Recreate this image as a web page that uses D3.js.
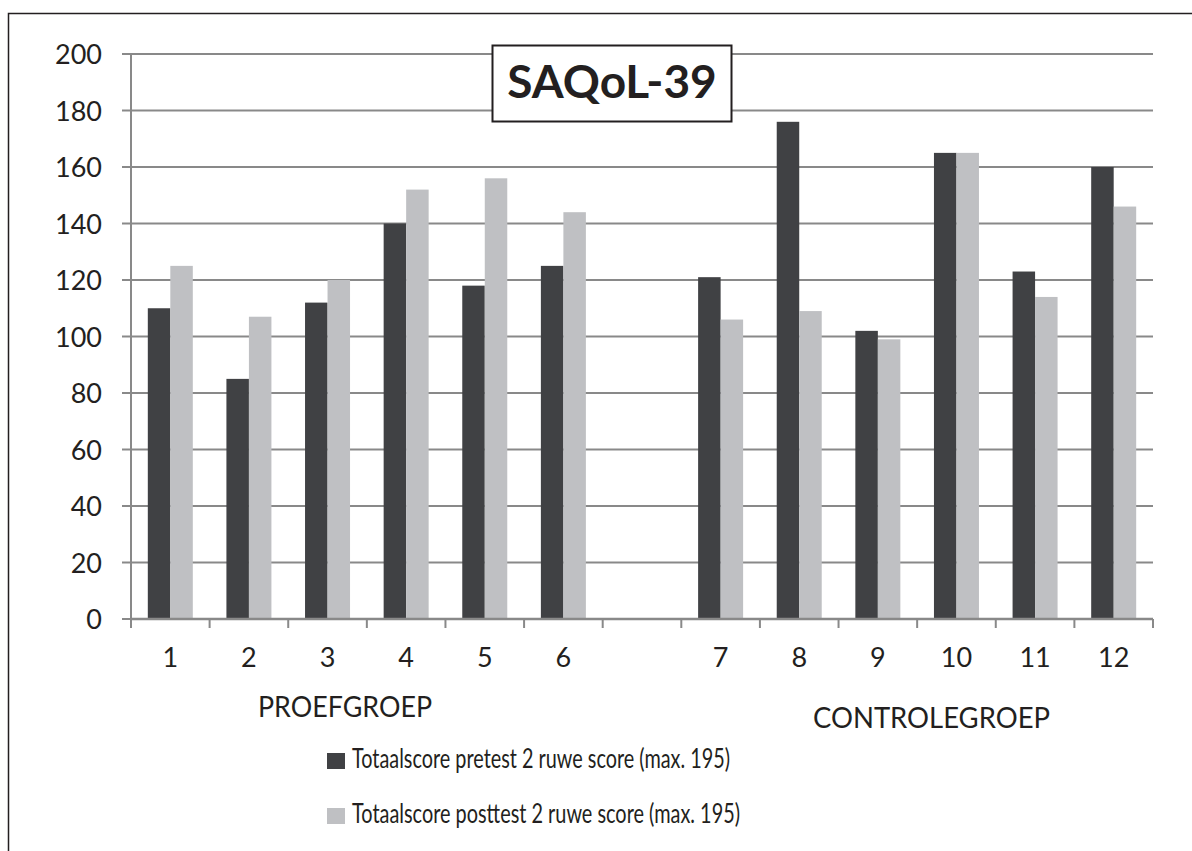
<!DOCTYPE html>
<html>
<head>
<meta charset="utf-8">
<script src="https://cdn.jsdelivr.net/npm/d3@7"></script>
<style>
  body { margin: 0; background: #fff; }
  text { font-family: Lato, "Open Sans", sans-serif; fill: #231f20; }
</style>
</head>
<body>
<script>
// SAQoL-39 chart

var categories = ["1", "2", "3", "4", "5", "6", "", "7", "8", "9", "10", "11", "12"];
var pretest  = [110, 85, 112, 140, 118, 125, null, 121, 176, 102, 165, 123, 160];
var posttest = [125, 107, 120, 152, 156, 144, null, 106, 109, 99, 165, 114, 146];
var yTicks = [0, 20, 40, 60, 80, 100, 120, 140, 160, 180, 200];
var seriesNames = ["Totaalscore pretest 2 ruwe score (max. 195)", "Totaalscore posttest 2 ruwe score (max. 195)"];
var seriesColors = ["#404144", "#bfc0c3"];

function draw_chart() {
    var width = 1192, height = 851;

    var svg = d3.select("body").append("svg")
                .attr("width", width)
                .attr("height", height);

    // outer frame (top and left edges only visible)
    svg.append("path")
        .attr("d", "M8.5,851 L8.5,13.5 L1192,13.5")
        .attr("fill", "none")
        .attr("stroke", "#231f20")
        .attr("stroke-width", 1.5);

    var left = 131, right = 1153, top = 54, bottom = 619;

    var x = d3.scaleBand()
              .domain(d3.range(categories.length))
              .range([left, right]);

    var y = d3.scaleLinear()
              .domain([0, 200])
              .range([bottom, top]);

    // gridlines
    svg.append("g")
        .selectAll("line")
        .data(yTicks)
        .enter()
        .append("line")
        .attr("x1", left - 9)
        .attr("x2", right)
        .attr("y1", function(d) { return y(d); })
        .attr("y2", function(d) { return y(d); })
        .attr("stroke", "#898989")
        .attr("stroke-width", 2);

    // y labels
    svg.append("g")
        .selectAll("text")
        .data(yTicks)
        .enter()
        .append("text")
        .attr("x", 102)
        .attr("y", function(d) { return y(d) + 10; })
        .attr("text-anchor", "end")
        .style("font-size", "27px")
        .text(function(d) { return d; });

    // bars
    var barW = 22.5;
    var series = [pretest, posttest];
    series.forEach(function(values, si) {
        svg.append("g")
            .selectAll("rect")
            .data(values.map(function(v, i) { return {i: i, v: v}; }).filter(function(d) { return d.v !== null; }))
            .enter()
            .append("rect")
            .attr("x", function(d) { return x(d.i) + x.bandwidth() / 2 - barW + si * barW; })
            .attr("y", function(d) { return y(d.v); })
            .attr("width", barW)
            .attr("height", function(d) { return y(0) - y(d.v); })
            .attr("fill", seriesColors[si]);
    });

    // y axis line
    svg.append("line")
        .attr("x1", left).attr("x2", left)
        .attr("y1", top).attr("y2", bottom + 9)
        .attr("stroke", "#898989")
        .attr("stroke-width", 2);

    // x axis line
    svg.append("line")
        .attr("x1", left).attr("x2", right)
        .attr("y1", bottom).attr("y2", bottom)
        .attr("stroke", "#898989")
        .attr("stroke-width", 2.5);

    // x tick marks at band boundaries
    svg.append("g")
        .selectAll("line")
        .data(d3.range(categories.length + 1))
        .enter()
        .append("line")
        .attr("x1", function(d) { return left + d * x.step(); })
        .attr("x2", function(d) { return left + d * x.step(); })
        .attr("y1", bottom)
        .attr("y2", bottom + 9)
        .attr("stroke", "#898989")
        .attr("stroke-width", 2);

    // x labels
    svg.append("g")
        .selectAll("text")
        .data(categories)
        .enter()
        .append("text")
        .attr("x", function(d, i) { return x(i) + x.bandwidth() / 2; })
        .attr("y", 667)
        .attr("text-anchor", "middle")
        .style("font-size", "27px")
        .text(function(d) { return d; });

    svg.append("text")
        .attr("x", 258).attr("y", 717)
        .attr("textLength", 174)
        .attr("lengthAdjust", "spacingAndGlyphs")
        .style("font-size", "28px")
        .text("PROEFGROEP");

    svg.append("text")
        .attr("x", 813).attr("y", 728)
        .attr("textLength", 237)
        .attr("lengthAdjust", "spacingAndGlyphs")
        .style("font-size", "28px")
        .text("CONTROLEGROEP");

    // legend
    var legendLen = [378, 388];
    seriesNames.forEach(function(name, i) {
        var ly = 760 + i * 55;
        svg.append("rect")
            .attr("x", 327).attr("y", ly - 7)
            .attr("width", 18).attr("height", 16)
            .attr("fill", seriesColors[i]);
        svg.append("text")
            .attr("x", 352).attr("y", ly + 8)
            .attr("textLength", legendLen[i])
            .attr("lengthAdjust", "spacingAndGlyphs")
            .style("font-size", "27px")
            .text(name);
    });

    // title box
    svg.append("rect")
        .attr("x", 492.5).attr("y", 45.5)
        .attr("width", 239).attr("height", 76)
        .attr("fill", "#fff")
        .attr("stroke", "#231f20")
        .attr("stroke-width", 2);

    svg.append("text")
        .attr("x", 612).attr("y", 98)
        .attr("text-anchor", "middle")
        .style("font-size", "46px")
        .style("font-weight", "bold")
        .text("SAQoL-39");
}

draw_chart();
</script>
</body>
</html>
